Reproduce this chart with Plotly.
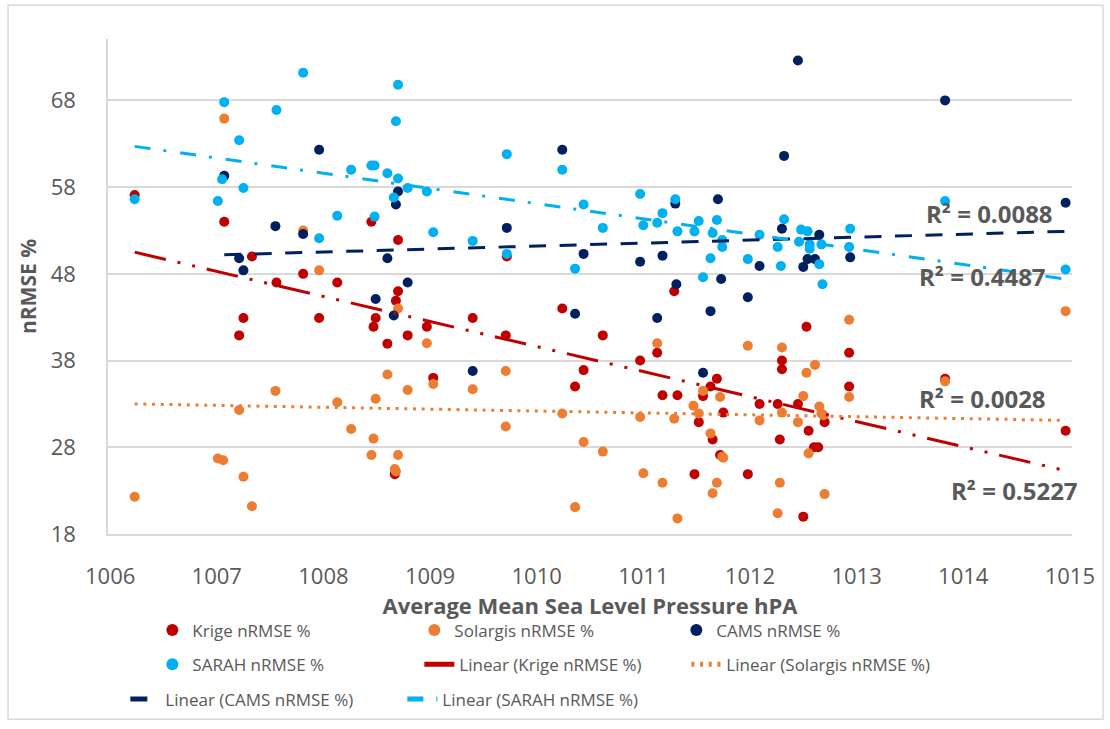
import plotly.graph_objects as go

# ---------------- data ----------------
krige_x = [1006.23, 1007.07, 1008.45, 1008.70, 1007.33, 1007.81, 1007.56, 1008.13, 1008.70, 1008.68,
           1007.25, 1007.96, 1008.49, 1008.47, 1007.21, 1008.79, 1008.60, 1008.67, 1010.24, 1009.40,
           1008.97, 1009.71, 1010.62, 1011.29, 1011.13, 1010.97, 1010.44, 1009.03, 1010.36, 1011.69,
           1011.63, 1011.56, 1011.18, 1011.32, 1011.52, 1011.75, 1011.65, 1011.72, 1011.48, 1009.72,
           1012.53, 1012.93, 1012.30, 1012.30, 1013.83, 1012.93, 1012.09, 1012.26, 1012.45, 1012.70,
           1012.55, 1014.96, 1012.28, 1012.64, 1012.60, 1011.98, 1012.50]
krige_y = [57.1, 54.0, 54.0, 51.9, 50.0, 48.0, 47.0, 47.0, 46.0, 44.9,
           42.9, 42.9, 42.9, 41.9, 40.9, 40.9, 39.95, 24.9, 44.0, 42.9,
           41.9, 40.9, 40.9, 46.0, 38.9, 38.0, 36.9, 36.0, 35.0, 35.9,
           35.0, 33.9, 34.0, 34.0, 30.9, 32.0, 28.9, 27.1, 24.9, 50.0,
           41.9, 38.9, 38.0, 37.0, 35.9, 35.0, 33.0, 33.0, 33.0, 30.9,
           29.9, 29.9, 28.9, 28.0, 28.0, 24.9, 20.0]

solargis_x = [1007.07, 1007.81, 1007.96, 1008.70, 1008.60, 1007.55, 1008.79, 1008.49, 1008.13, 1007.21,
              1008.26, 1008.47, 1008.45, 1008.70, 1007.01, 1007.06, 1008.67, 1008.68, 1007.25, 1006.23,
              1007.33, 1008.97, 1009.71, 1009.03, 1009.40, 1010.24, 1010.97, 1011.29, 1009.71, 1010.44,
              1010.62, 1011.00, 1011.18, 1010.36, 1011.32, 1011.13, 1011.56, 1011.72, 1011.47, 1011.52,
              1011.63, 1011.74, 1011.69, 1011.65, 1014.96, 1012.93, 1011.98, 1012.30, 1012.61, 1012.53,
              1013.83, 1012.93, 1012.50, 1012.65, 1012.30, 1012.67, 1012.69, 1012.09, 1012.45, 1011.75,
              1012.55, 1012.28, 1012.70, 1012.26]
solargis_y = [65.9, 53.0, 48.4, 44.0, 36.4, 34.5, 34.6, 33.6, 33.2, 32.3,
              30.1, 29.0, 27.1, 27.1, 26.7, 26.5, 25.5, 25.2, 24.6, 22.3,
              21.2, 40.0, 36.8, 35.3, 34.7, 31.9, 31.5, 31.3, 30.4, 28.6,
              27.5, 25.0, 23.9, 21.1, 19.8, 40.0, 34.5, 33.8, 32.8, 31.9,
              29.6, 26.9, 23.9, 22.7, 43.7, 42.7, 39.7, 39.5, 37.5, 36.6,
              35.6, 33.8, 33.9, 32.7, 32.0, 31.9, 31.7, 31.1, 30.9, 26.8,
              27.3, 23.9, 22.6, 20.4]

cams_x = [1007.96, 1007.07, 1008.70, 1008.68, 1007.55, 1007.81, 1007.21, 1008.60, 1007.25, 1008.79,
          1008.49, 1008.66, 1010.24, 1011.30, 1011.70, 1009.72, 1010.44, 1010.97, 1011.18, 1011.73,
          1010.36, 1011.13, 1011.31, 1011.63, 1009.40, 1011.56, 1012.45, 1013.83, 1012.32, 1014.96,
          1012.30, 1012.65, 1012.94, 1012.54, 1012.61, 1012.09, 1012.50, 1011.98]
cams_y = [62.3, 59.3, 57.5, 56.0, 53.5, 52.6, 49.8, 49.8, 48.4, 47.0,
          45.1, 43.2, 62.3, 56.1, 56.6, 53.3, 50.3, 49.4, 50.1, 47.4,
          43.4, 42.9, 46.8, 43.7, 36.8, 36.6, 72.6, 68.0, 61.6, 56.2,
          53.2, 52.5, 49.9, 49.7, 49.7, 48.9, 48.8, 45.3]

sarah_x = [1007.81, 1008.70, 1007.07, 1007.56, 1008.68, 1007.21, 1008.26, 1008.45, 1008.48, 1008.60,
           1008.70, 1008.79, 1007.05, 1007.25, 1006.23, 1008.66, 1007.01, 1008.13, 1008.48, 1007.96,
           1009.72, 1010.24, 1008.97, 1010.97, 1010.44, 1011.30, 1011.18, 1011.13, 1011.00, 1011.52,
           1011.69, 1009.03, 1009.40, 1010.62, 1011.32, 1011.48, 1011.65, 1011.74, 1011.74, 1009.72,
           1010.36, 1011.63, 1011.56, 1013.83, 1012.32, 1012.48, 1012.54, 1012.09, 1012.26, 1012.46,
           1012.56, 1012.56, 1012.67, 1012.94, 1012.93, 1011.98, 1012.29, 1012.65, 1014.96, 1012.68]
sarah_y = [71.2, 69.8, 67.8, 66.9, 65.6, 63.4, 60.0, 60.5, 60.5, 59.6,
           59.0, 57.9, 58.9, 57.9, 56.6, 56.8, 56.4, 54.7, 54.6, 52.1,
           61.8, 60.0, 57.5, 57.2, 56.0, 56.6, 55.0, 53.9, 53.6, 54.1,
           54.2, 52.8, 51.8, 53.3, 52.9, 52.9, 52.7, 51.9, 51.1, 50.3,
           48.6, 49.8, 47.6, 56.4, 54.3, 53.1, 52.9, 52.5, 51.1, 51.7,
           51.4, 50.9, 51.4, 53.2, 51.1, 49.7, 48.9, 49.1, 48.5, 46.8]

# linear trend lines (end points)
trend_krige_x = [1006.23, 1014.96]
trend_krige_y = [50.5, 25.3]
trend_solargis_x = [1006.23, 1014.96]
trend_solargis_y = [33.0, 31.1]
trend_cams_x = [1007.07, 1014.96]
trend_cams_y = [50.2, 52.9]
trend_sarah_x = [1006.23, 1014.96]
trend_sarah_y = [62.7, 47.4]

r2_labels = ["R² = 0.0088", "R² = 0.4487", "R² = 0.0028", "R² = 0.5227"]
r2_x = [1014.25, 1014.18, 1014.18, 1014.48]
r2_y = [55.0, 47.7, 33.6, 23.0]

x_ticks = list(range(1006, 1016))
y_ticks = [18, 28, 38, 48, 58, 68]

# ---------------- styling ----------------
C_KRIGE = "#C00000"
C_SOLARGIS = "#ED7D31"
C_CAMS = "#002060"
C_SARAH = "#00B0F0"
GRAY_TXT = "#595959"
GRID = "#D9D9D9"
FONT = "Open Sans"

fig = go.Figure()

def scatter(x, y, name, color, legend):
    fig.add_trace(go.Scatter(x=x, y=y, mode="markers", name=name, legend=legend,
                             marker=dict(size=10, color=color, line=dict(width=0))))

scatter(krige_x, krige_y, "Krige nRMSE %", C_KRIGE, "legend")
scatter(solargis_x, solargis_y, "Solargis nRMSE %", C_SOLARGIS, "legend")
scatter(cams_x, cams_y, "CAMS nRMSE %", C_CAMS, "legend")
scatter(sarah_x, sarah_y, "SARAH nRMSE %", C_SARAH, "legend2")

def trend(x, y, name, color, dash, legend):
    fig.add_trace(go.Scatter(x=x, y=y, mode="lines", name=name, legend=legend,
                             line=dict(color=color, width=3, dash=dash)))

trend(trend_krige_x, trend_krige_y, "Linear (Krige nRMSE %)", C_KRIGE,
      "32px,12px,3px,12px,3px,12px", "legend2")
trend(trend_solargis_x, trend_solargis_y, "Linear (Solargis nRMSE %)", C_SOLARGIS,
      "3px,5.7px", "legend2")
trend(trend_cams_x, trend_cams_y, "Linear (CAMS nRMSE %)", C_CAMS,
      "17px,13.5px", "legend3")
trend(trend_sarah_x, trend_sarah_y, "Linear (SARAH nRMSE %)", C_SARAH,
      "16px,13px,3px,14px", "legend3")

for t, x, y in zip(r2_labels, r2_x, r2_y):
    fig.add_annotation(x=x, y=y, text=t, showarrow=False, xanchor="center", yanchor="middle",
                       font=dict(family=FONT, size=24, color=GRAY_TXT, weight="bold"))

legend_font = dict(family=FONT, size=17, color=GRAY_TXT)
common_leg = dict(orientation="h", xanchor="left", yanchor="middle", font=legend_font,
                  bgcolor="rgba(0,0,0,0)", itemsizing="constant", entrywidthmode="pixels",
                  tracegroupgap=0)

fig.update_layout(
    width=1110, height=729,
    margin=dict(l=108, r=38, t=39, b=193),
    paper_bgcolor="white", plot_bgcolor="white",
    font=dict(family=FONT, color=GRAY_TXT),
    showlegend=True,
    legend=dict(x=0.046, y=-0.195, entrywidth=217, **common_leg),
    legend2=dict(x=0.046, y=-0.264, entrywidth=222, **common_leg),
    legend3=dict(x=0.018, y=-0.334, entrywidth=232, **common_leg),
    xaxis=dict(range=[1005.98, 1015.02], tickmode="array", tickvals=x_ticks,
               ticktext=[str(v) for v in x_ticks], showgrid=False, zeroline=False,
               showline=True, linecolor=GRID, linewidth=1.5, ticks="",
               tickfont=dict(family=FONT, size=22, color=GRAY_TXT), ticklabelstandoff=22,
               title=dict(text="Average Mean Sea Level Pressure hPA", standoff=6,
                          font=dict(family=FONT, size=22, color=GRAY_TXT, weight="bold"))),
    yaxis=dict(range=[18, 75.08], tickmode="array", tickvals=y_ticks,
               showgrid=True, gridcolor=GRID, gridwidth=1.5, zeroline=False,
               showline=True, linecolor=GRID, linewidth=1.5, ticks="",
               tickfont=dict(family=FONT, size=22, color=GRAY_TXT), ticklabelstandoff=26,
               title=dict(text="nRMSE %", standoff=8,
                          font=dict(family=FONT, size=21, color=GRAY_TXT, weight="bold"))),
)

# outer chart border
fig.add_shape(type="rect", xref="paper", yref="paper",
              x0=-0.1037, x1=1.0322, y0=-0.374, y1=1.068,
              line=dict(color=GRID, width=1.5), fillcolor="rgba(0,0,0,0)", layer="below")

fig.write_html("out.html")
